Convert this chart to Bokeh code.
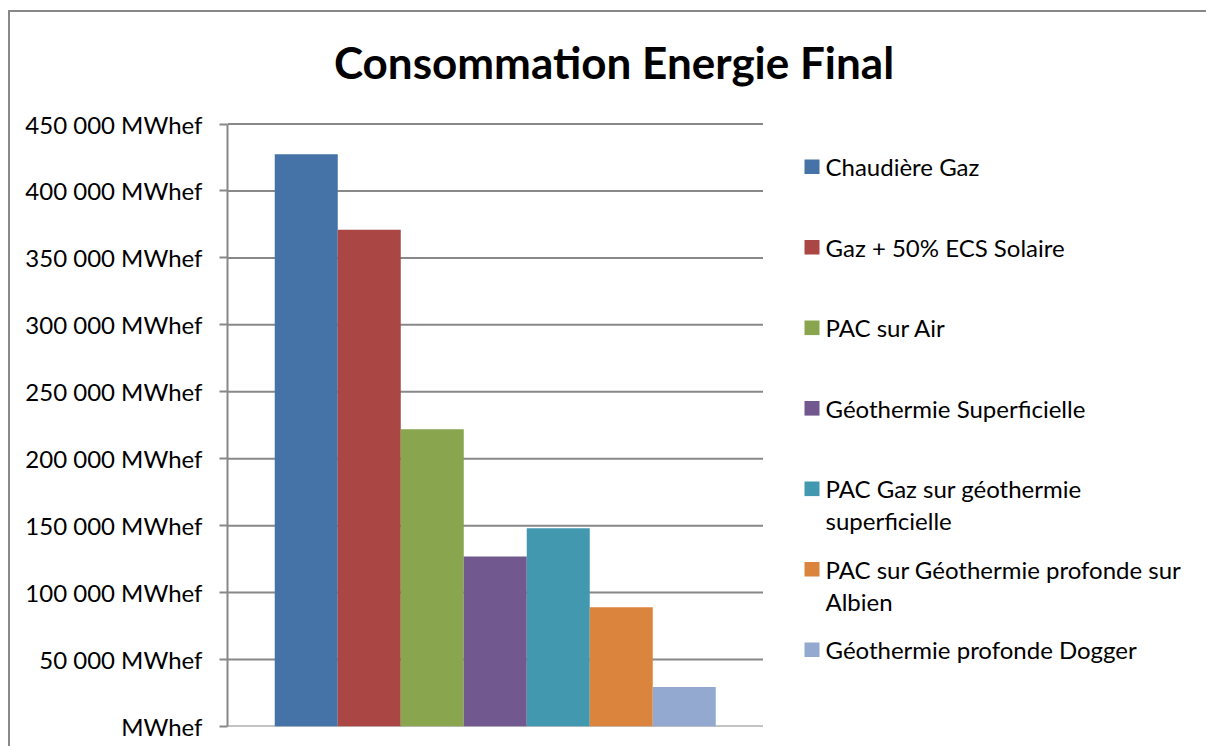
from bokeh.plotting import figure
from bokeh.models import (Range1d, FixedTicker, Label, BoxAnnotation,
                          ColumnDataSource)
from bokeh.embed import file_html
from bokeh.resources import INLINE

# --- data -----------------------------------------------------------------
title_text = "Consommation Energie Final"
series = [
    "Chaudière Gaz",
    "Gaz + 50% ECS Solaire",
    "PAC sur Air",
    "Géothermie Superficielle",
    "PAC Gaz sur géothermie superficielle",
    "PAC sur Géothermie profonde sur Albien",
    "Géothermie profonde  Dogger",
]
# legend wording, wrapped the way it is laid out in the legend column
legend_lines = [
    ["Chaudière Gaz"],
    ["Gaz + 50% ECS Solaire"],
    ["PAC sur Air"],
    ["Géothermie Superficielle"],
    ["PAC Gaz sur géothermie", "superficielle"],
    ["PAC sur Géothermie profonde sur", "Albien"],
    ["Géothermie profonde  Dogger"],
]
values = [427500, 371000, 222000, 127000, 148000, 89000, 29500]
colors = ["#4572A7", "#AA4643", "#89A54E", "#71588F",
          "#4198AF", "#DB843D", "#93A9CF"]
y_ticks = [0, 50000, 100000, 150000, 200000, 250000, 300000, 350000, 400000, 450000]
y_tick_labels = ["MWhef", "50 000 MWhef", "100 000 MWhef", "150 000 MWhef",
                 "200 000 MWhef", "250 000 MWhef", "300 000 MWhef",
                 "350 000 MWhef", "400 000 MWhef", "450 000 MWhef"]
y_max = 450000

# --- layout ---------------------------------------------------------------
FONT = "Lato"
GRID = "#888888"
OFF_X, OFF_Y = 10, 12                 # page offset of the canvas (margin + border)
W, H = 1206 - OFF_X, 746 - OFF_Y      # canvas size
AXIS_W = 217                          # room for the value axis labels
BOTTOM = 20                           # blank strip under the base line
FRAME_W, FRAME_H = W - AXIS_W, H - BOTTOM
VALUE_SPAN_PX = 602.5                 # pixels between 0 and y_max
BAR_PX = 63                           # width of one bar
GAP = 0.75                            # empty space each side of the bar group, in bars

n = len(series)
x_pos = [i + 0.5 for i in range(n)]
x_start = -GAP
x_end = x_start + FRAME_W / BAR_PX
y_end = y_max * FRAME_H / VALUE_SPAN_PX

FRAME_LEFT_PAGE = OFF_X + AXIS_W
FRAME_BOTTOM_PAGE = OFF_Y + FRAME_H


def sx(page_x):
    """page pixel -> screen units of the plot frame"""
    return page_x - FRAME_LEFT_PAGE


def sy(page_y):
    return FRAME_BOTTOM_PAGE - page_y


source = ColumnDataSource(dict(x=x_pos, series=series, value=values, color=colors))
grid_src = ColumnDataSource(dict(
    x0=[x_start] * len(y_ticks), x1=[n + GAP] * len(y_ticks),
    y=y_ticks))

p = figure(
    x_range=Range1d(x_start, x_end), y_range=Range1d(0, y_end),
    frame_width=FRAME_W, frame_height=FRAME_H,
    min_border_left=AXIS_W, min_border_right=0,
    min_border_top=0, min_border_bottom=BOTTOM,
    output_backend="svg", toolbar_location=None,
    outline_line_color=None, background_fill_color="white",
    border_fill_color="white",
)
p.styles = {
    "margin-left": "8px", "margin-top": "10px",
    "border-left": f"2px solid {GRID}", "border-top": f"2px solid {GRID}",
}
p.xgrid.visible = False
p.ygrid.visible = False
p.xaxis.visible = False

# horizontal grid lines, limited to the bar area
p.segment(x0="x0", x1="x1", y0="y", y1="y", source=grid_src,
          line_color=GRID, line_width=2)

p.vbar(x="x", top="value", bottom=0, width=1.0, source=source,
       fill_color="color", line_color=None)

# value axis
ya = p.yaxis[0]
ya.bounds = (0, y_max)
ya.ticker = FixedTicker(ticks=y_ticks)
ya.major_label_overrides = {t: lab for t, lab in zip(y_ticks, y_tick_labels)}
ya.major_label_text_font = FONT
ya.major_label_text_font_size = "24px"
ya.major_label_text_color = "black"
ya.major_label_standoff = 17
ya.axis_line_color = GRID
ya.axis_line_width = 2
ya.major_tick_line_color = GRID
ya.major_tick_line_width = 2
ya.major_tick_out = 8
ya.major_tick_in = 0
ya.minor_tick_line_color = None

# title
p.add_layout(Label(x=sx(613.5), y=sy(61.5), x_units="screen", y_units="screen",
                   text=title_text, text_align="center", text_baseline="middle",
                   text_font=FONT, text_font_style="bold", text_font_size="44px",
                   text_color="black"))

# legend column
LEG_TOP, LEG_PITCH, LINE_H = 166.3, 80.5, 32
for i, (lines, col) in enumerate(zip(legend_lines, colors)):
    cy = LEG_TOP + i * LEG_PITCH
    p.add_layout(BoxAnnotation(left=sx(804), right=sx(819), top=sy(cy - 7.3),
                               bottom=sy(cy + 7.3), left_units="screen",
                               right_units="screen", top_units="screen",
                               bottom_units="screen", fill_color=col,
                               fill_alpha=1.0, line_color=None))
    for j, line in enumerate(lines):
        p.add_layout(Label(x=sx(825), y=sy(cy + j * LINE_H), x_units="screen",
                           y_units="screen", text=line, text_align="left",
                           text_baseline="middle", text_font=FONT,
                           text_font_size="24px", text_color="black"))

open("out.html", "w").write(file_html(p, INLINE))
